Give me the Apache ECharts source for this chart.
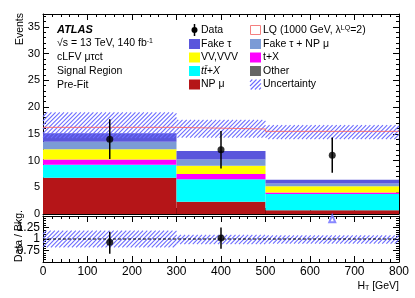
<!DOCTYPE html>
<html>
<head>
<meta charset="utf-8">
<script src="https://cdn.jsdelivr.net/npm/echarts@6/dist/echarts.min.js"></script>
<style>html,body{margin:0;padding:0;background:#fff;}#c{width:415px;height:298px;}</style>
</head>
<body>
<div id="c"></div>
<script>
// ---- data ----
const binEdges = [0, 300, 500, 800];
const npMu      = [6.8, 2.3, 0.7];
const ttX       = [2.4, 4.2, 3.05];
const tX        = [1.0, 1.0, 0.25];
const vvVVV     = [1.9, 1.5, 1.2];
const other     = [0.0, 0.0, 0.0];
const fakeTauNP = [1.4, 1.2, 0.5];
const fakeTau   = [1.6, 1.6, 0.7];
const lqLevel   = [16.2, 15.9, 15.45];
const uncLo     = [14.2, 14.3, 14.0];
const uncHi     = [19.0, 17.6, 16.6];
const dataX     = [150, 400, 650];
const dataY     = [14.0, 12.0, 11.0];
const dataLo    = [10.3, 8.5, 7.7];
const dataHi    = [17.7, 15.5, 14.3];
const ratioX    = [150, 400];
const ratioY    = [0.93, 1.02];
const ratioLo   = [0.68, 0.79];
const ratioHi   = [1.155, 1.25];
const ratioUncLo = [0.82, 0.89, 0.90];
const ratioUncHi = [1.18, 1.09, 1.08];
const offScaleX = [650];
const offScaleY = [1.44];

const FONT = 'Liberation Sans, Arial, Helvetica, sans-serif';
const hatchColor = '#6c6cff';

// diagonal "///" hatch lines inside a pixel rectangle
function hatchLines(x0, y0, x1, y1, z) {
  const out = [];
  const step = 4.2;
  const start = Math.floor((x0 + y0) / step) * step;
  for (let c = start; c <= x1 + y1; c += step) {
    const xa = Math.max(x0, c - y1), xb = Math.min(x1, c - y0);
    if (xb <= xa) continue;
    out.push({
      type: 'line', z2: z || 0, silent: true,
      shape: { x1: xa, y1: c - xa, x2: xb, y2: c - xb },
      style: { stroke: hatchColor, lineWidth: 1.1 }
    });
  }
  return out;
}

const layers = [
  { name: 'NP μ', vals: npMu, color: '#b51518' },
  { name: 'tt+X', vals: ttX, color: '#00ffff' },
  { name: 't+X', vals: tX, color: '#ff00ff' },
  { name: 'VV,VVV', vals: vvVVV, color: '#ffff00' },
  { name: 'Other', vals: other, color: '#666666' },
  { name: 'Fake τ + NP μ', vals: fakeTauNP, color: '#7b9bd6' },
  { name: 'Fake τ', vals: fakeTau, color: '#5a56dc' }
];
const cum = [0, 0, 0];
const rectSeries = layers.map(l => {
  const d = [];
  for (let i = 0; i < 3; i++) {
    d.push([binEdges[i], binEdges[i + 1], cum[i], cum[i] + l.vals[i]]);
    cum[i] += l.vals[i];
  }
  return {
    type: 'custom', name: l.name, xAxisIndex: 0, yAxisIndex: 0,
    data: d, z: 2, renderItem: rectRender(l.color)
  };
});

function rectRender(fill) {
  return function (params, api) {
    const p0 = api.coord([api.value(0), api.value(2)]);
    const p1 = api.coord([api.value(1), api.value(3)]);
    const h = p0[1] - p1[1];
    if (h <= 0) return null;
    return {
      type: 'rect',
      shape: { x: p0[0], y: p1[1], width: p1[0] - p0[0], height: h },
      style: { fill: fill, stroke: null }
    };
  };
}
function hatchRender(params, api) {
  const p0 = api.coord([api.value(0), api.value(2)]);
  const p1 = api.coord([api.value(1), api.value(3)]);
  return { type: 'group', children: hatchLines(p0[0], p1[1], p1[0], p0[1]) };
}
function errRender(params, api) {
  const a = api.coord([api.value(0), api.value(1)]);
  const b = api.coord([api.value(0), api.value(2)]);
  return {
    type: 'line',
    shape: { x1: a[0], y1: a[1], x2: b[0], y2: b[1] },
    style: { stroke: '#000', lineWidth: 1.5 }
  };
}

const uncData = [0, 1, 2].map(i => [binEdges[i], binEdges[i + 1], uncLo[i], uncHi[i]]);
const rUncData = [0, 1, 2].map(i => [binEdges[i], binEdges[i + 1], ratioUncLo[i], ratioUncHi[i]]);
const lqData = [[binEdges[0], lqLevel[0]], [binEdges[1], lqLevel[1]], [binEdges[2], lqLevel[2]], [binEdges[3], lqLevel[2]]];

function xAx(grid, pos, labels) {
  return {
    type: 'value', gridIndex: grid, position: pos, min: 0, max: 800, interval: 100,
    axisLine: { show: true, onZero: false, lineStyle: { color: '#000', width: 1 } },
    axisTick: { show: true, inside: true, length: 6, lineStyle: { color: '#000' } },
    minorTick: { show: true, splitNumber: 5, length: 3, lineStyle: { color: '#000' } },
    axisLabel: { show: labels, color: '#000', fontFamily: FONT, fontSize: 12, margin: 4 },
    splitLine: { show: false }
  };
}
function yAx(grid, pos, labels, min, max, interval, fs) {
  return {
    type: 'value', gridIndex: grid, position: pos, min: min, max: max, interval: interval,
    axisLine: { show: true, onZero: false, lineStyle: { color: '#000', width: 1 } },
    axisTick: { show: true, inside: true, length: 6, lineStyle: { color: '#000' } },
    minorTick: { show: true, splitNumber: 5, length: 3, lineStyle: { color: '#000' } },
    axisLabel: { show: labels, color: '#000', fontFamily: FONT, fontSize: fs, margin: 3, showMaxLabel: false },
    splitLine: { show: false }
  };
}

const chart = echarts.init(document.getElementById('c'), null, { renderer: 'canvas' });

const txt = (x, y, text, extra) => ({
  type: 'text', x: x, y: y, z: 100,
  style: Object.assign({ text: text, fill: '#000', font: '10.5px ' + FONT, verticalAlign: 'middle', align: 'left' }, extra || {})
});
const box = (x, y, fill) => ({
  type: 'rect', z: 100, shape: { x: x, y: y - 5, width: 11, height: 10 },
  style: { fill: fill, stroke: null }
});

const rows = [30, 44, 57.5, 71, 84.5];
const c1 = 189, c2 = 250;
const graphics = [
  txt(57, 29.5, 'ATLAS', { font: 'italic bold 11px ' + FONT }),
  { type: 'text', x: 57, y: 43, z: 100, style: {
      text: '√s = 13 TeV, 140 fb{s|-1}', fill: '#000', font: '10.5px ' + FONT, verticalAlign: 'middle',
      rich: { s: { fontSize: 7, verticalAlign: 'top', fontFamily: FONT, fill: '#000' } } } },
  txt(57, 57.5, 'cLFV μτct'),
  txt(57, 71.5, 'Signal Region'),
  txt(57, 85.5, 'Pre-Fit'),
  // legend column 1
  { type: 'line', z: 100, shape: { x1: 194.5, y1: rows[0] - 6, x2: 194.5, y2: rows[0] + 6 }, style: { stroke: '#000', lineWidth: 1.5 } },
  { type: 'circle', z: 101, shape: { cx: 194.5, cy: rows[0], r: 3 }, style: { fill: '#000' } },
  txt(201, rows[0], 'Data'),
  box(c1, rows[1], '#5a56dc'), txt(201, rows[1], 'Fake τ'),
  box(c1, rows[2], '#ffff00'), txt(201, rows[2], 'VV,VVV'),
  box(c1, rows[3], '#00ffff'), txt(201, rows[3], 'tt\u0304+X', { font: 'italic 10.5px ' + FONT }),
  box(c1, rows[4], '#b51518'), txt(201, rows[4], 'NP μ'),
  // legend column 2
  { type: 'rect', z: 100, shape: { x: c2 + 0.5, y: rows[0] - 4.5, width: 10, height: 9 }, style: { fill: 'none', stroke: '#f47f7f', lineWidth: 1 } },
  { type: 'text', x: 263, y: rows[0], z: 100, style: {
      text: 'LQ (1000 GeV, λ{s|LQ}=2)', fill: '#000', font: '10.5px ' + FONT, verticalAlign: 'middle',
      rich: { s: { fontSize: 7, verticalAlign: 'top', fontFamily: FONT, fill: '#000' } } } },
  box(c2, rows[1], '#7b9bd6'), txt(263, rows[1], 'Fake τ + NP μ'),
  box(c2, rows[2], '#ff00ff'), txt(263, rows[2], 't+X'),
  box(c2, rows[3], '#666666'), txt(263, rows[3], 'Other'),
  { type: 'group', z: 100, children: hatchLines(c2, rows[4] - 5, c2 + 11, rows[4] + 5) },
  txt(263, rows[4], 'Uncertainty'),
  // axis titles
  { type: 'text', x: 20, y: 13, z: 100, rotation: Math.PI / 2,
    style: { text: 'Events', fill: '#000', font: '10.5px ' + FONT, align: 'right', verticalAlign: 'middle' } },
  { type: 'text', x: 19.5, y: 262, z: 100, rotation: Math.PI / 2,
    style: { text: 'Data / Bkg.', fill: '#000', font: '10.5px ' + FONT, align: 'left', verticalAlign: 'middle' } },
  { type: 'text', x: 399, y: 286, z: 100,
    style: { text: 'H{sub|T} [GeV]', fill: '#000', font: '10.5px ' + FONT, align: 'right', verticalAlign: 'middle',
      rich: { sub: { fontSize: 7, verticalAlign: 'bottom', fontFamily: FONT, fill: '#000' } } } }
];

chart.setOption({
  animation: false,
  backgroundColor: '#fff',
  grid: [
    { left: 43, top: 14, width: 356, height: 200, containLabel: false },
    { left: 43, top: 216, width: 356, height: 46, containLabel: false }
  ],
  xAxis: [xAx(0, 'bottom', false), xAx(0, 'top', false), xAx(1, 'bottom', true), xAx(1, 'top', false)],
  yAxis: [
    yAx(0, 'left', true, 0, 37.4, 5, 11),
    yAx(0, 'right', false, 0, 37.4, 5, 11),
    yAx(1, 'left', true, 0.5, 1.5, 0.25, 12),
    yAx(1, 'right', false, 0.5, 1.5, 0.25, 12)
  ],
  series: rectSeries.concat([
    { type: 'custom', name: 'Uncertainty', xAxisIndex: 0, yAxisIndex: 0, data: uncData, z: 5, renderItem: hatchRender },
    { type: 'line', name: 'LQ', xAxisIndex: 0, yAxisIndex: 0, data: lqData, step: 'end', symbol: 'none', z: 6,
      lineStyle: { color: '#ff6060', width: 1, opacity: 0.85 } },
    { type: 'custom', name: 'DataErr', xAxisIndex: 0, yAxisIndex: 0, z: 10,
      data: dataX.map((x, i) => [x, dataLo[i], dataHi[i]]), renderItem: errRender },
    { type: 'scatter', name: 'Data', xAxisIndex: 0, yAxisIndex: 0, z: 11,
      data: dataX.map((x, i) => [x, dataY[i]]), symbol: 'circle', symbolSize: 7, itemStyle: { color: '#000' } },
    { type: 'custom', name: 'RatioUnc', xAxisIndex: 2, yAxisIndex: 2, data: rUncData, z: 5, renderItem: hatchRender },
    { type: 'line', name: 'One', xAxisIndex: 2, yAxisIndex: 2, data: [[0, 1], [800, 1]], symbol: 'none', z: 6,
      lineStyle: { color: '#000', width: 1, type: [3, 2] } },
    { type: 'custom', name: 'RatioErr', xAxisIndex: 2, yAxisIndex: 2, z: 10,
      data: ratioX.map((x, i) => [x, ratioLo[i], ratioHi[i]]), renderItem: errRender },
    { type: 'scatter', name: 'Ratio', xAxisIndex: 2, yAxisIndex: 2, z: 11,
      data: ratioX.map((x, i) => [x, ratioY[i]]), symbol: 'circle', symbolSize: 7, itemStyle: { color: '#000' } },
    { type: 'scatter', name: 'OffScale', xAxisIndex: 2, yAxisIndex: 2, z: 11,
      data: offScaleX.map((x, i) => [x, offScaleY[i]]), symbol: 'emptyTriangle', symbolSize: [6, 7],
      itemStyle: { color: '#6a6aff', borderColor: '#6a6aff', borderWidth: 1 } }
  ]),
  graphic: graphics
});
</script>
</body>
</html>
